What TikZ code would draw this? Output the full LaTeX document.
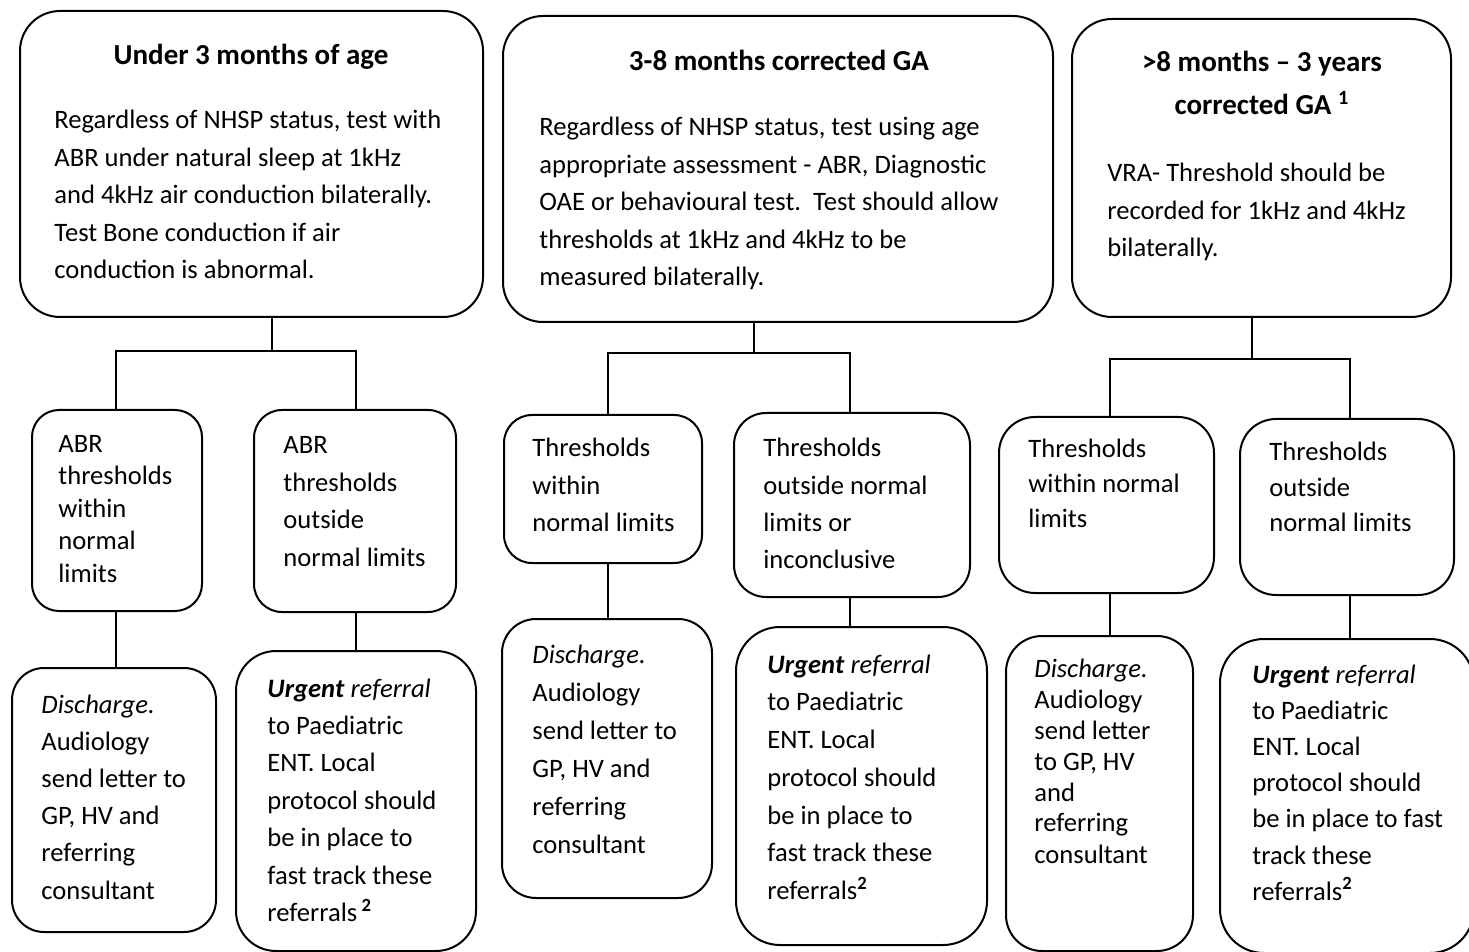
\documentclass[tikz,border=0pt]{standalone}
\usepackage{fontspec}
\setmainfont{Carlito}
\newcommand\mlines[2]{\vtop{\baselineskip=#1\lineskiplimit=-100pt\lineskip=0pt\halign{##\hfil\cr#2\crcr}}}
\newcommand\clines[2]{\vtop{\baselineskip=#1\lineskiplimit=-100pt\lineskip=0pt\halign{\hfil##\hfil\cr#2\crcr}}}
\newcommand\fnmark[1]{\textsuperscript{\bfseries #1}}
\tikzset{
  box/.style={draw, line width=1pt, rectangle, inner sep=0pt},
  txt/.style={inner sep=0pt, anchor=base west, font=\fontsize{13.3pt}{18pt}\selectfont},
  ttl/.style={inner sep=0pt, anchor=base, font=\fontsize{14.5pt}{21pt}\selectfont\bfseries},
  conn/.style={line width=1pt}
}
\begin{document}
\begin{tikzpicture}[x=0.5pt,y=-0.5pt]
\useasboundingbox (0,0) rectangle (1469,952);
% top boxes
\node[box, minimum width=231.5pt, minimum height=153pt, rounded corners=20pt] (T1) at (251.5,164) {};
\node[box, minimum width=275pt, minimum height=153pt, rounded corners=20pt] (T2) at (778,169) {};
\node[box, minimum width=189.5pt, minimum height=149pt, rounded corners=20pt] (T3) at (1261.5,168) {};
% middle boxes
\node[box, minimum width=85pt, minimum height=100.5pt, rounded corners=13.5pt] (A1) at (117,510.5) {};
\node[box, minimum width=101pt, minimum height=101pt, rounded corners=14pt] (A2) at (355,511) {};
\node[box, minimum width=99pt, minimum height=74pt, rounded corners=14pt] (B1) at (603,489) {};
\node[box, minimum width=118pt, minimum height=92pt, rounded corners=16pt] (B2) at (852,505) {};
\node[box, minimum width=107.5pt, minimum height=88pt, rounded corners=18pt] (E1) at (1106.5,505) {};
\node[box, minimum width=107pt, minimum height=88pt, rounded corners=18pt] (E2) at (1347,507) {};
% bottom boxes
\node[box, minimum width=102pt, minimum height=132pt, rounded corners=16pt] (C1) at (114,800) {};
\node[box, minimum width=120pt, minimum height=150pt, rounded corners=20pt] (C2) at (356,801) {};
\node[box, minimum width=105pt, minimum height=139.5pt, rounded corners=17pt] (D1) at (607,758.5) {};
\node[box, minimum width=125.5pt, minimum height=159pt, rounded corners=22pt] (D2) at (861.5,786) {};
\node[box, minimum width=93.5pt, minimum height=157.5pt, rounded corners=18pt] (F1) at (1099.5,793.5) {};
\node[box, minimum width=127pt, minimum height=157pt, rounded corners=22pt] (F2) at (1347,796) {};
% junction coordinates
\coordinate (j1) at (272,351);
\coordinate (a1t) at (116,351);
\coordinate (a2t) at (356,351);
\coordinate (j2) at (754,353);
\coordinate (b1t) at (608,353);
\coordinate (b2t) at (850,353);
\coordinate (j3) at (1252,359);
\coordinate (e1t) at (1110,359);
\coordinate (e2t) at (1350,359);
% connectors
\draw[conn] (j1 |- T1.south) -- (j1);
\draw[conn] (a1t |- A1.north) -- (a1t) -- (a2t) -- (a2t |- A2.north);
\draw[conn] (a1t |- A1.south) -- (a1t |- C1.north);
\draw[conn] (a2t |- A2.south) -- (a2t |- C2.north);
\draw[conn] (j2 |- T2.south) -- (j2);
\draw[conn] (b1t |- B1.north) -- (b1t) -- (b2t) -- (b2t |- B2.north);
\draw[conn] (b1t |- B1.south) -- (b1t |- D1.north);
\draw[conn] (b2t |- B2.south) -- (b2t |- D2.north);
\draw[conn] (j3 |- T3.south) -- (j3);
\draw[conn] (e1t |- E1.north) -- (e1t) -- (e2t) -- (e2t |- E2.north);
\draw[conn] (e1t |- E1.south) -- (e1t |- F1.north);
\draw[conn] (e2t |- E2.south) -- (e2t |- F2.north);
% titles
\node[ttl] (tT1) at (251,65) {Under 3 months of age};
\node[ttl] (tT2) at (779,71) {3-8 months corrected GA};
\node[ttl] (tT3) at (1262,72) {\clines{21.5pt}{>8 months -- 3 years\cr corrected GA \fnmark{1}}};
% body texts
\node[txt] (bT1) at (54,129) {\mlines{18.75pt}{Regardless of NHSP status, test with\cr ABR under natural sleep at 1kHz\cr and 4kHz air conduction bilaterally.\cr Test Bone conduction if air\cr conduction is abnormal.}};
\node[txt] (bT2) at (539,136) {\mlines{18.75pt}{Regardless of NHSP status, test using age\cr appropriate assessment - ABR, Diagnostic\cr OAE or behavioural test.\ \ Test should allow\cr thresholds at 1kHz and 4kHz to be\cr measured bilaterally.}};
\node[txt] (bT3) at (1107,182) {\mlines{18.75pt}{VRA- Threshold should be\cr recorded for 1kHz and 4kHz\cr bilaterally.}};
\node[txt] (tA1) at (58,452) {\mlines{16.3pt}{ABR\cr thresholds\cr within\cr normal\cr limits}};
\node[txt] (tA2) at (283,454) {\mlines{18.75pt}{ABR\cr thresholds\cr outside\cr normal limits}};
\node[txt] (tB1) at (532,457) {\mlines{18.75pt}{Thresholds\cr within\cr normal limits}};
\node[txt] (tB2) at (763,457) {\mlines{18.6pt}{Thresholds\cr outside normal\cr limits or\cr inconclusive}};
\node[txt] (tE1) at (1028,458) {\mlines{17.5pt}{Thresholds\cr within normal\cr limits}};
\node[txt] (tE2) at (1269,461) {\mlines{17.75pt}{Thresholds\cr outside\cr normal limits}};
\node[txt] (tC1) at (41,713) {\mlines{18.6pt}{\textit{Discharge.}\cr Audiology\cr send letter to\cr GP, HV and\cr referring\cr consultant}};
\node[txt] (tC2) at (267,697) {\mlines{18.75pt}{\textbf{\textit{Urgent}} \textit{referral}\cr to Paediatric\cr ENT. Local\cr protocol should\cr be in place to\cr fast track these\cr referrals\,\fnmark{2}}};
\node[txt] (tD1) at (532,663) {\mlines{19pt}{\textit{Discharge.}\cr Audiology\cr send letter to\cr GP, HV and\cr referring\cr consultant}};
\node[txt] (tD2) at (767,673) {\mlines{18.9pt}{\textbf{\textit{Urgent}} \textit{referral}\cr to Paediatric\cr ENT. Local\cr protocol should\cr be in place to\cr fast track these\cr referrals\fnmark{2}}};
\node[txt] (tF1) at (1034,677) {\mlines{15.5pt}{\textit{Discharge.}\cr Audiology\cr send letter\cr to GP, HV\cr and\cr referring\cr consultant}};
\node[txt] (tF2) at (1252,683) {\mlines{18.1pt}{\textbf{\textit{Urgent}} \textit{referral}\cr to Paediatric\cr ENT. Local\cr protocol should\cr be in place to fast\cr track these\cr referrals\fnmark{2}}};
\end{tikzpicture}
\end{document}
